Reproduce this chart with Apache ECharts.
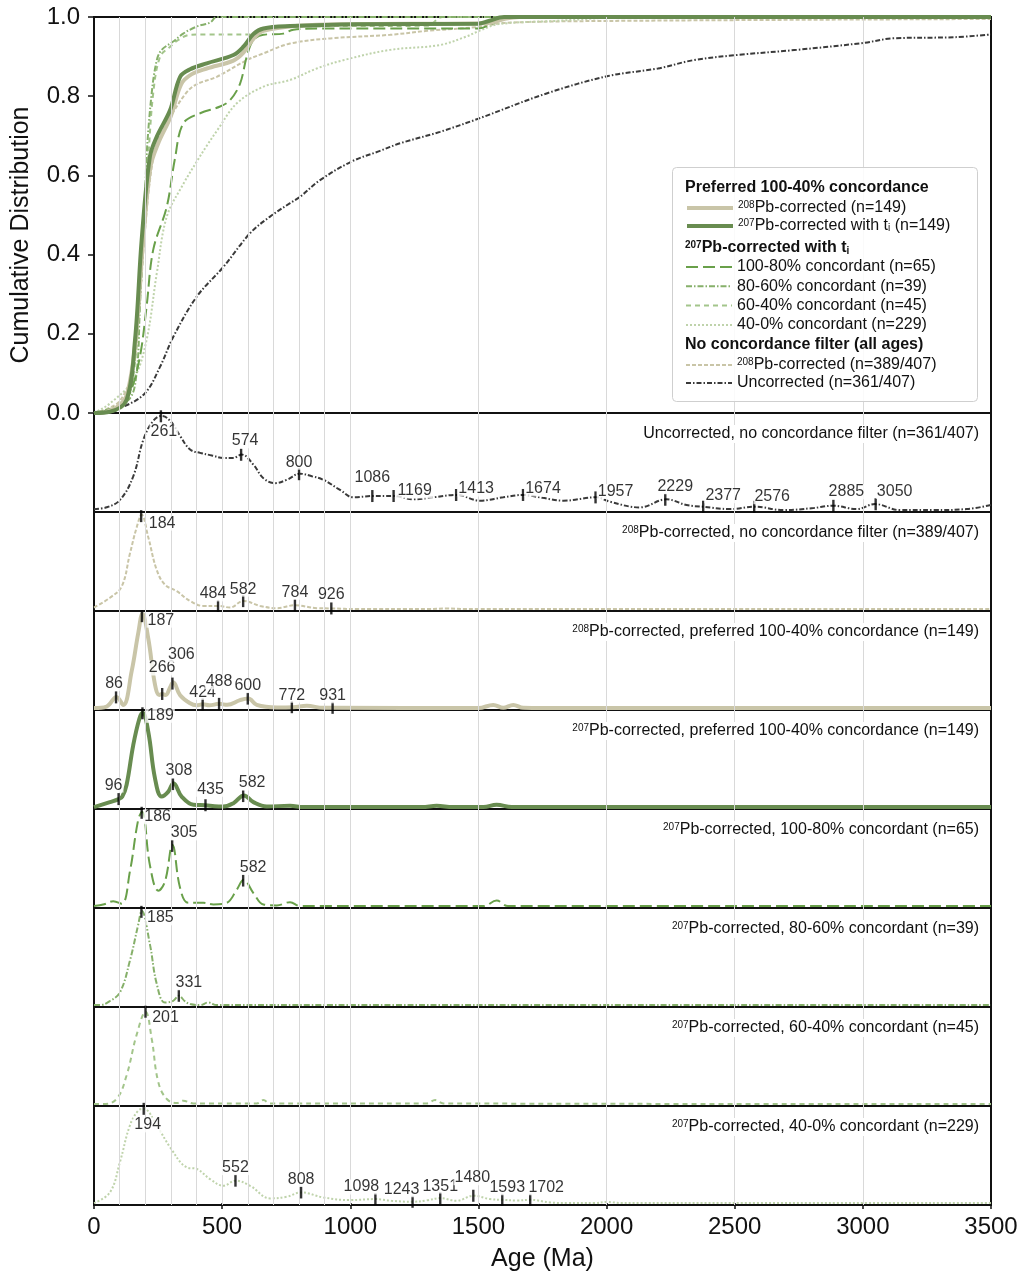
<!DOCTYPE html>
<html>
<head>
<meta charset="utf-8">
<script src="https://cdn.jsdelivr.net/npm/echarts@6/dist/echarts.min.js"></script>
<style>html,body{margin:0;padding:0;background:#fff}#c{width:1019px;height:1275px}</style>
</head>
<body>
<div id="c"></div>
<script>
// ---------------- DATA ----------------
const ageTicks = [0, 500, 1000, 1500, 2000, 2500, 3000, 3500];
const cdfTicks = [0, 0.2, 0.4, 0.6, 0.8, 1.0];
const gridAges = [100, 200, 300, 400, 500, 600, 700, 800, 900, 1000, 1500, 2000, 2500, 3000];

// Cumulative distributions [age, fraction]
const cdfUncorr = [[0,0],[23,0.003],[114,0.016],[199,0.05],[258,0.117],[310,0.193],[401,0.294],[505,0.369],[609,0.454],[687,0.496],[765,0.530],[804,0.546],[882,0.588],[1005,0.635],[1116,0.662],[1194,0.681],[1350,0.71],[1503,0.744],[1766,0.807],[2006,0.851],[2200,0.870],[2339,0.891],[2509,0.904],[2742,0.917],[3008,0.935],[3114,0.946],[3359,0.949],[3500,0.956]];
const cdfAll208 = [[0,0],[50,0.01],[100,0.03],[150,0.1],[175,0.25],[200,0.47],[225,0.62],[250,0.69],[300,0.75],[362,0.81],[400,0.83],[479,0.849],[596,0.891],[661,0.908],[765,0.933],[921,0.946],[1155,0.955],[1300,0.965],[1500,0.975],[1600,0.985],[2000,0.99],[3500,0.995]];
const cdf400 = [[0,0],[10,0.003],[62,0.024],[153,0.083],[205,0.184],[245,0.353],[284,0.496],[350,0.58],[401,0.635],[440,0.675],[479,0.712],[557,0.782],[661,0.824],[765,0.841],[869,0.870],[973,0.891],[1155,0.917],[1348,0.929],[1450,0.95],[1503,0.965],[1580,0.982],[1800,0.99],[2100,1.0],[3500,1.0]];
const cdf6040 = [[0,0],[100,0.01],[140,0.05],[170,0.2],[190,0.45],[212,0.647],[231,0.807],[258,0.9],[297,0.925],[329,0.942],[375,0.955],[440,0.956],[620,0.956],[700,0.976],[1300,0.978],[1360,1.0],[3500,1.0]];
const cdf8060 = [[0,0],[134,0.033],[166,0.1],[179,0.268],[199,0.521],[205,0.647],[225,0.807],[245,0.891],[264,0.917],[309,0.938],[348,0.958],[401,0.976],[453,0.986],[479,1.0],[3500,1.0]];
const cdf10080 = [[0,0],[89,0.008],[140,0.05],[179,0.142],[205,0.268],[231,0.412],[284,0.521],[316,0.643],[348,0.731],[414,0.757],[492,0.774],[531,0.790],[570,0.832],[596,0.900],[622,0.942],[661,0.955],[739,0.958],[778,0.968],[895,0.971],[1500,0.971],[1560,0.985],[1627,1.0],[3500,1.0]];
const cdfPref208 = [[0,0],[50,0.003],[100,0.02],[130,0.05],[160,0.17],[190,0.42],[220,0.62],[250,0.68],[300,0.75],[340,0.83],[380,0.855],[440,0.87],[544,0.89],[583,0.91],[622,0.945],[661,0.965],[800,0.978],[1000,0.982],[1540,0.985],[1600,0.995],[1660,1.0],[3500,1.0]];
const cdfPref207 = [[0,0],[62,0.003],[127,0.033],[160,0.184],[186,0.437],[218,0.647],[245,0.698],[297,0.765],[336,0.849],[375,0.868],[440,0.883],[544,0.904],[583,0.925],[622,0.957],[661,0.971],[765,0.977],[1025,0.982],[1500,0.983],[1540,0.99],[1600,1.0],[3500,1.0]];

// Kernel density estimates (relative, peak = 1) [age, density]
const kdeUncorr = [[0,0.01],[50,0.03],[101,0.107],[153,0.357],[193,0.75],[231,0.946],[264,1.0],[303,0.929],[336,0.786],[375,0.643],[414,0.607],[460,0.58],[505,0.554],[544,0.554],[576,0.589],[622,0.482],[661,0.339],[706,0.286],[752,0.321],[804,0.386],[850,0.36],[895,0.321],[960,0.214],[1012,0.136],[1090,0.15],[1168,0.15],[1246,0.114],[1324,0.136],[1415,0.161],[1506,0.1],[1597,0.136],[1675,0.161],[1750,0.13],[1831,0.1],[1961,0.136],[2013,0.089],[2130,0.029],[2234,0.114],[2312,0.054],[2377,0.036],[2482,0.011],[2579,0.036],[2690,0.0],[2800,0.02],[2885,0.046],[2976,0.011],[3047,0.064],[3145,0],[3275,0],[3405,0.011],[3500,0.054]];
const kdeAll208 = [[0,0.017],[62,0.12],[108,0.24],[140,0.586],[166,0.862],[186,1.0],[212,0.759],[245,0.414],[277,0.259],[323,0.19],[375,0.086],[427,0.034],[485,0.034],[531,0.017],[583,0.086],[648,0.034],[713,0.01],[784,0.041],[869,0.01],[927,0.007],[1025,0],[1300,0],[1376,0.007],[1450,0],[3500,0]];
const kdePref208 = [[0,0],[49,0.017],[88,0.119],[114,0.034],[147,0.392],[173,0.802],[189,1.0],[212,0.734],[238,0.25],[255,0.14],[266,0.15],[280,0.14],[297,0.222],[309,0.273],[336,0.137],[375,0.051],[400,0.03],[424,0.04],[450,0.03],[488,0.045],[520,0.035],[570,0.085],[602,0.102],[635,0.034],[713,0.007],[778,0.01],[830,0.024],[895,0.003],[934,0.003],[1500,0],[1558,0.034],[1597,0.003],[1636,0.034],[1675,0.003],[1750,0],[3500,0]];
const kdePref207 = [[0,0],[62,0.053],[96,0.085],[110,0.11],[127,0.235],[153,0.656],[177,0.937],[190,1.0],[212,0.796],[238,0.305],[264,0.112],[290,0.165],[310,0.253],[342,0.112],[388,0.025],[435,0.02],[470,0.01],[505,0.007],[544,0.042],[585,0.123],[622,0.053],[674,0.007],[765,0.014],[817,0],[1280,0],[1337,0.014],[1400,0],[1520,0],[1571,0.025],[1630,0],[3500,0]];
const kde10080 = [[0,0],[40,0.02],[75,0.052],[108,0.024],[140,0.366],[173,0.923],[188,1.0],[218,0.436],[251,0.164],[277,0.261],[306,0.652],[336,0.192],[368,0.035],[427,0.035],[466,0.017],[518,0.035],[557,0.174],[584,0.279],[622,0.139],[661,0.017],[713,0.007],[765,0.042],[804,0],[1520,0],[1571,0.059],[1615,0],[3500,0]];
const kde8060 = [[0,0],[23,0],[60,0.04],[101,0.134],[140,0.47],[173,0.859],[186,1.0],[218,0.647],[245,0.223],[277,0.028],[309,0.046],[331,0.099],[355,0.04],[375,0.011],[414,0],[446,0.028],[479,0],[3500,0]];
const kde6040 = [[0,0],[36,0],[88,0.054],[127,0.304],[166,0.732],[201,0.98],[225,0.696],[251,0.232],[284,0.054],[323,0.011],[348,0.036],[388,0.007],[635,0.007],[661,0.043],[687,0.007],[1298,0.007],[1331,0.043],[1363,0.007],[3500,0]];
const kde400 = [[0,0],[62,0.113],[101,0.433],[140,0.823],[173,0.982],[194,1.0],[245,0.823],[297,0.592],[362,0.379],[401,0.362],[453,0.255],[505,0.184],[552,0.238],[609,0.184],[687,0.05],[752,0.067],[808,0.113],[895,0.06],[999,0.032],[1098,0.043],[1160,0.025],[1243,0.014],[1300,0.03],[1351,0.053],[1415,0.025],[1480,0.078],[1545,0.043],[1593,0.035],[1650,0.028],[1702,0.035],[1779,0.007],[1850,0],[1950,0],[2000,0.012],[2060,0],[3500,0]];

// Peak ages
const peaksUncorr = [261,574,800,1086,1169,1413,1674,1957,2229,2377,2576,2885,3050];
const peaksAll208 = [184,484,582,784,926];
const peaksPref208 = [86,187,266,306,424,488,600,772,931];
const peaksPref207 = [96,189,308,435,582];
const peaks10080 = [186,305,582];
const peaks8060 = [185,331];
const peaks6040 = [201];
const peaks400 = [194,552,808,1098,1243,1351,1480,1593,1702];

// ---------------- LAYOUT / STYLE ----------------
const labelShift = {
  uncorr: [[3,15],[4,-14],[0,-12],[0,-18],[21,-5],[20,-6],[20,-6],[20,-6],[10,-13],[20,-11],[18,-10],[13,-14],[19,-13]],
  all208: [[21,7],[-5,-12],[0,-12],[0,-13],[0,-14]],
  pref208: [[-2,-14],[19,4],[0,-26],[9,-29],[0,-12],[0,-22],[0,-13],[0,-12],[0,-12]],
  pref207: [[-5,-14],[18,2],[6,-13],[5,-16],[9,-13]],
  c10080: [[16,4],[12,-13],[10,-13]],
  c8060: [[19,6],[10,-13]],
  c6040: [[20,6]],
  c400: [[4,16],[0,-13],[0,-13],[-14,-12],[-11,-12],[0,-12],[-1,-18],[5,-12],[16,-12]]
};
const FONT = 'Liberation Sans, Arial, Helvetica, sans-serif';
const C = {
  uncorr: '#3a3a3a', all208: '#c9c5a7', pref208: '#c9c5a8', pref207: '#688c50',
  c10080: '#69a04a', c8060: '#86b06a', c6040: '#a3c58b', c400: '#bfd3ab'
};
const ST = {
  uncorr: {w: 2, t: [5, 2, 1.5, 2]},
  all208: {w: 2, t: [4, 2]},
  pref208: {w: 4, t: 'solid'},
  pref207: {w: 4, t: 'solid'},
  c10080: {w: 2, t: [12, 5]},
  c8060: {w: 2, t: [6, 2, 1.5, 2]},
  c6040: {w: 2, t: [5, 4]},
  c400: {w: 2, t: [2, 2]}
};
const L = 94, R = 991, W = 1019;
const topGrid = {top: 17, height: 396};
const kdeTop0 = 413, kdeH = 99;

const panels = [
  {key: 'uncorr', kde: kdeUncorr, peaks: peaksUncorr, title: 'Uncorrected, no concordance filter (n=361/407)'},
  {key: 'all208', kde: kdeAll208, peaks: peaksAll208, title: '{sup|208}Pb-corrected, no concordance filter (n=389/407)'},
  {key: 'pref208', kde: kdePref208, peaks: peaksPref208, title: '{sup|208}Pb-corrected, preferred 100-40% concordance (n=149)'},
  {key: 'pref207', kde: kdePref207, peaks: peaksPref207, title: '{sup|207}Pb-corrected, preferred 100-40% concordance (n=149)'},
  {key: 'c10080', kde: kde10080, peaks: peaks10080, title: '{sup|207}Pb-corrected, 100-80% concordant (n=65)'},
  {key: 'c8060', kde: kde8060, peaks: peaks8060, title: '{sup|207}Pb-corrected, 80-60% concordant (n=39)'},
  {key: 'c6040', kde: kde6040, peaks: peaks6040, title: '{sup|207}Pb-corrected, 60-40% concordant (n=45)'},
  {key: 'c400', kde: kde400, peaks: peaks400, title: '{sup|207}Pb-corrected, 40-0% concordant (n=229)'}
];

function interp(arr, x) {
  for (let i = 1; i < arr.length; i++) {
    if (x <= arr[i][0]) {
      const a = arr[i-1], b = arr[i];
      return a[1] + (b[1]-a[1]) * (x - a[0]) / (b[0] - a[0]);
    }
  }
  return arr[arr.length-1][1];
}

const grids = [], xAxes = [], yAxes = [], series = [], titles = [];
const gridLineSeries = (gi) => ({
  type: 'line', name: 'grid' + gi, xAxisIndex: gi, yAxisIndex: gi, data: [], z: 1, silent: true,
  markLine: {silent: true, symbol: 'none', animation: false, label: {show: false},
    lineStyle: {color: '#d9d9d9', width: 1, type: 'solid'},
    data: gridAges.map(v => ({xAxis: v}))}
});
const gridBase = {left: L, right: W - R, show: true, borderColor: '#111', borderWidth: 2,
  containLabel: false, outerBoundsMode: 'none'};

// top grid
grids.push(Object.assign({}, gridBase, {top: topGrid.top, height: topGrid.height}));
xAxes.push({type: 'value', gridIndex: 0, min: 0, max: 3500, show: false});
yAxes.push({type: 'value', gridIndex: 0, min: 0, max: 1, interval: 0.2,
  axisLine: {show: false}, splitLine: {show: false},
  axisTick: {show: true, length: 6, lineStyle: {color: '#111', width: 1.5}},
  axisLabel: {fontFamily: FONT, fontSize: 24, color: '#111', margin: 14, formatter: v => cdfTicks.includes(+v.toFixed(1)) ? v.toFixed(1) : ''},
  name: 'Cumulative Distribution', nameLocation: 'middle', nameGap: 60, nameRotate: 90,
  nameTextStyle: {fontFamily: FONT, fontSize: 25, color: '#111', padding: [0, 40, 0, 0]}});
series.push(gridLineSeries(0));

const cdfList = [
  ['uncorr', cdfUncorr], ['all208', cdfAll208], ['c400', cdf400], ['c6040', cdf6040],
  ['c8060', cdf8060], ['c10080', cdf10080], ['pref208', cdfPref208], ['pref207', cdfPref207]
];
cdfList.forEach(([k, d], i) => {
  series.push({type: 'line', name: k, xAxisIndex: 0, yAxisIndex: 0, data: d, smooth: 0.35, symbol: 'none',
    z: 2 + i * 0.01, lineStyle: {color: C[k], width: ST[k].w, type: ST[k].t}, itemStyle: {color: C[k]}});
});

panels.forEach((p, i) => {
  const gi = i + 1;
  const top = kdeTop0 + i * kdeH;
  const isLast = i === panels.length - 1;
  grids.push(Object.assign({}, gridBase, {top: top, height: kdeH}));
  if (isLast) {
    xAxes.push({type: 'value', gridIndex: gi, min: 0, max: 3500, interval: 500, position: 'bottom',
      axisLine: {show: false}, splitLine: {show: false},
      axisTick: {show: true, length: 6, lineStyle: {color: '#111', width: 1.5}},
      axisLabel: {fontFamily: FONT, fontSize: 24, color: '#111', margin: 10, formatter: v => ageTicks.includes(v) ? String(v) : ''},
      name: 'Age (Ma)', nameLocation: 'middle', nameGap: 42, nameTextStyle: {fontFamily: FONT, fontSize: 25, color: '#111'}});
  } else {
    xAxes.push({type: 'value', gridIndex: gi, min: 0, max: 3500, show: false});
  }
  yAxes.push({type: 'value', gridIndex: gi, min: -0.02, max: 1.03, show: false});
  series.push(gridLineSeries(gi));
  series.push({type: 'line', name: 'kde_' + p.key, xAxisIndex: gi, yAxisIndex: gi, data: p.kde, smooth: 0.4,
    symbol: 'none', z: 2, lineStyle: {color: C[p.key], width: ST[p.key].w, type: ST[p.key].t}});
  const shifts = labelShift[p.key];
  series.push({type: 'scatter', name: 'pk_' + p.key, xAxisIndex: gi, yAxisIndex: gi, z: 5,
    symbol: 'rect', symbolSize: [2.4, 12], itemStyle: {color: '#000'},
    data: p.peaks.map((a, j) => ({value: [a, interp(p.kde, a)],
      label: {show: true, position: 'inside', offset: shifts[j], formatter: String(a),
        fontFamily: FONT, fontSize: 16, color: '#000', backgroundColor: '#fff', padding: [0, 1, 0, 1], lineHeight: 15}}))});
  titles.push({text: p.title, right: 38, top: top + 12,
    textStyle: {fontFamily: FONT, fontSize: 16, fontWeight: 'normal', color: '#111',
      rich: {sup: {fontSize: 10, verticalAlign: 'top', color: '#111', fontFamily: FONT}}},
    backgroundColor: '#fff', padding: [1, 2, 1, 2]});
});

// legend
const legendText = {
  pref208: '{sup|208}Pb-corrected (n=149)',
  pref207: '{sup|207}Pb-corrected with t{sub|i} (n=149)',
  c10080: '100-80% concordant (n=65)',
  c8060: '80-60% concordant (n=39)',
  c6040: '60-40% concordant (n=45)',
  c400: '40-0% concordant (n=229)',
  all208: '{sup|208}Pb-corrected (n=389/407)',
  uncorr: 'Uncorrected (n=361/407)'
};
const legRich = {
  sup: {fontSize: 10, verticalAlign: 'top', fontFamily: FONT, color: '#111', lineHeight: 15},
  sub: {fontSize: 10, verticalAlign: 'bottom', fontFamily: FONT, color: '#111', lineHeight: 15}
};
const mkLegend = (data, top, gap) => ({
  data: data, orient: 'vertical', left: 685, top: top, padding: 0, itemWidth: 46, itemHeight: 14, itemGap: gap,
  selectedMode: false, z: 10,
  itemStyle: {opacity: 0},
  lineStyle: {width: 'inherit', type: 'inherit'},
  formatter: n => legendText[n],
  textStyle: {fontFamily: FONT, fontSize: 16, color: '#111', lineHeight: 15, rich: legRich}
});
const legends = [
  mkLegend(['pref208', 'pref207'], 200, 2),
  mkLegend(['c10080', 'c8060', 'c6040', 'c400'], 259, 3.3),
  mkLegend(['all208', 'uncorr'], 357, 2)
];

const graphic = [
  {type: 'rect', left: 672, top: 167, z: 8, shape: {width: 305, height: 234, r: 4},
    style: {fill: 'rgba(255,255,255,0.85)', stroke: '#cfcfcf', lineWidth: 1}},
  {type: 'text', left: 685, top: 180, z: 10, style: {text: 'Preferred 100-40% concordance', fontFamily: FONT, fontSize: 16, fontWeight: 'bold', fill: '#111'}},
  {type: 'text', left: 685, top: 240, z: 10, style: {text: '{sup|207}{b|Pb-corrected with t}{sub|i}', fontFamily: FONT, fontSize: 16, fontWeight: 'bold', fill: '#111',
    rich: {sup: {fontSize: 10, fontWeight: 'bold', verticalAlign: 'top', fontFamily: FONT}, b: {fontSize: 16, fontWeight: 'bold', fontFamily: FONT}, sub: {fontSize: 10, fontWeight: 'bold', verticalAlign: 'bottom', fontFamily: FONT}}}},
  {type: 'text', left: 685, top: 337, z: 10, style: {text: 'No concordance filter (all ages)', fontFamily: FONT, fontSize: 16, fontWeight: 'bold', fill: '#111'}}
];

const chart = echarts.init(document.getElementById('c'), null, {renderer: 'canvas'});
chart.setOption({
  animation: false,
  backgroundColor: '#fff',
  grid: grids, xAxis: xAxes, yAxis: yAxes, series: series, title: titles,
  legend: legends, graphic: graphic
});
</script>
</body>
</html>
